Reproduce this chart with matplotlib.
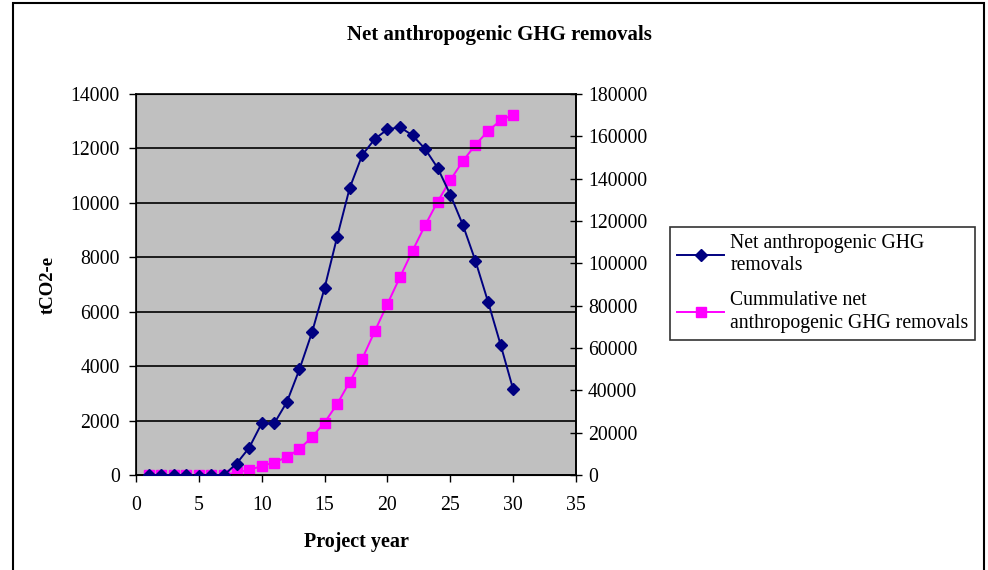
import numpy as np
import matplotlib
matplotlib.use('Agg')
import matplotlib.pyplot as plt
from matplotlib.patches import Rectangle

# Datos
anios = list(range(1, 31))
neto = [0, 0, 0, 0, -30, 0, 0, 420, 1000, 1900, 1900, 2680, 3880, 5240, 6870,
        8750, 10550, 11760, 12350, 12700, 12780, 12480, 11980, 11280, 10300,
        9190, 7870, 6370, 4790, 3150]
acumulado = [0, 0, 0, 0, 0, 0, 0, 1200, 2400, 4200, 5900, 8500, 12300, 17900, 24800,
             33500, 44000, 55000, 68000, 80800, 93500, 106000, 118000, 129200, 139300,
             148300, 156000, 162500, 167500, 170200]

ticks_izq = list(range(0, 14001, 2000))
ticks_der = list(range(0, 180001, 20000))
ticks_x = list(range(0, 36, 5))

plt.rcParams['font.family'] = ['Liberation Serif', 'DejaVu Serif']

fig = plt.figure(figsize=(9.88, 5.70), dpi=100)
# marco exterior del grafico
fig.patches.append(Rectangle((13 / 988, -0.01), 971 / 988, 1 - 3 / 570 + 0.01,
                             transform=fig.transFigure, fill=False,
                             edgecolor='black', linewidth=1.5))

ax = fig.add_axes([136 / 988, 1 - 475 / 570, 440 / 988, 381 / 570])
l1, = ax.plot(anios, neto, color='#000080', marker='D', markersize=6,
              linewidth=1.4, label='Net anthropogenic GHG\nremovals', zorder=3)
ax.set_xlim(0, 35)
ax.set_ylim(0, 14000)
ax.set_xticks(ticks_x)
ax.set_yticks(ticks_izq)
ax.yaxis.grid(True, color='black', linewidth=1.2)
ax.set_axisbelow(True)
ax.tick_params(axis='both', direction='out', length=5, width=1, labelsize=14.2)
ax.tick_params(axis='y', pad=6.5)
ax.tick_params(axis='x', pad=10)
for s in ax.spines.values():
    s.set_linewidth(1.2)

ax2 = ax.twinx()
l2, = ax2.plot(anios, acumulado, color='#FF00FF', marker='s', markersize=7,
               linewidth=1.4, label='Cummulative net\nanthropogenic GHG removals', zorder=3)
ax2.set_ylim(0, 180000)
ax2.set_yticks(ticks_der)
ax2.tick_params(axis='y', direction='inout', length=9, width=1, labelsize=14.2, pad=4)
ax2.spines['right'].set_linewidth(1.2)
ax.set_zorder(ax2.get_zorder() + 1)
ax2.patch.set_visible(True)
ax2.patch.set_facecolor('#C0C0C0')
ax.set_facecolor('none')

ax.set_xlabel('Project year', fontsize=14.5, fontweight='bold', labelpad=12)
ax.set_ylabel('tCO2-e', fontsize=13.5, fontweight='bold', labelpad=10)
fig.text(0.505, 1 - 35 / 570, 'Net anthropogenic GHG removals', ha='center', va='center',
         fontsize=15, fontweight='bold')

leg = fig.legend(handles=[l1, l2], loc='upper left', bbox_to_anchor=(670 / 988, 1 - 227 / 570),
                 fontsize=14.2, frameon=True, fancybox=False, edgecolor='black',
                 borderpad=0.35, borderaxespad=0, handlelength=2.4, handletextpad=0.3,
                 labelspacing=0.8)
for t in leg.get_texts():
    t.set_linespacing(1.25)
leg.get_frame().set_linewidth(1.2)

fig.savefig('out.png', dpi=100)
